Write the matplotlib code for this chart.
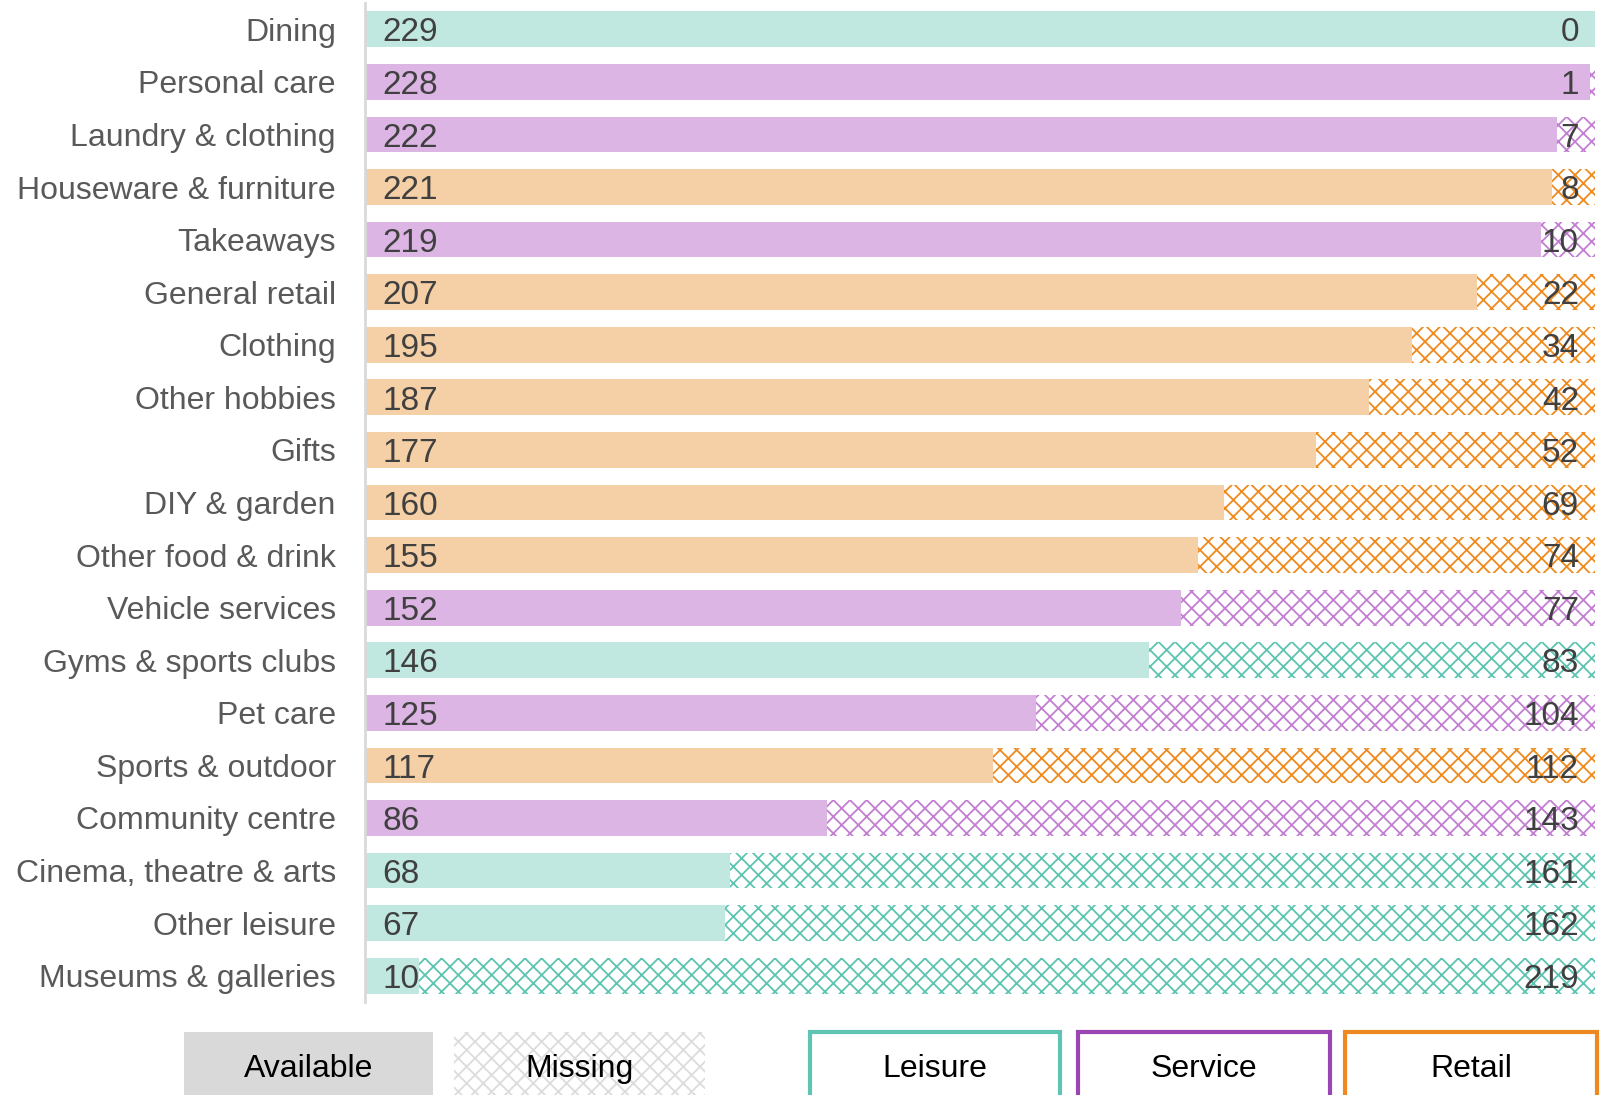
import matplotlib.pyplot as plt
from matplotlib.patches import Rectangle

plt.rcParams['font.family'] = ['Liberation Sans', 'DejaVu Sans']
plt.rcParams['hatch.linewidth'] = 1.3

# datos
categorias = ["Dining", "Personal care", "Laundry & clothing", "Houseware & furniture",
              "Takeaways", "General retail", "Clothing", "Other hobbies", "Gifts",
              "DIY & garden", "Other food & drink", "Vehicle services",
              "Gyms & sports clubs", "Pet care", "Sports & outdoor", "Community centre",
              "Cinema, theatre & arts", "Other leisure", "Museums & galleries"]
disponibles = [229, 228, 222, 221, 219, 207, 195, 187, 177, 160, 155, 152, 146, 125, 117, 86, 68, 67, 10]
faltantes = [0, 1, 7, 8, 10, 22, 34, 42, 52, 69, 74, 77, 83, 104, 112, 143, 161, 162, 219]
tipos = ["Leisure", "Service", "Service", "Retail", "Service", "Retail", "Retail", "Retail",
         "Retail", "Retail", "Retail", "Service", "Leisure", "Service", "Retail", "Service",
         "Leisure", "Leisure", "Leisure"]
leyenda_tipos = ["Leisure", "Service", "Retail"]

# colores por tipo: relleno, trama, borde
relleno = {"Leisure": "#c1e8e0", "Service": "#dcb5e4", "Retail": "#f5cfa5"}
trama = {"Leisure": "#5cc4b0", "Service": "#c27fd2", "Retail": "#ee8a1e"}
borde = {"Leisure": "#5fc4b4", "Service": "#9b44b3", "Retail": "#ee8820"}

W, H = 1613, 1095
fig = plt.figure(figsize=(W / 100, H / 100), dpi=100)
ax = fig.add_axes([365 / W, 1 - 1002 / H, (1595 - 365) / W, (1002 - 3) / H])

y = list(range(len(categorias)))
total = [a + m for a, m in zip(disponibles, faltantes)]

for i in y:
    t = tipos[i]
    ax.barh(i, disponibles[i], height=0.68, color=relleno[t], linewidth=0)
    if faltantes[i] > 0:
        ax.barh(i, faltantes[i], left=disponibles[i], height=0.68, color="white",
                edgecolor=trama[t], hatch="xx", linewidth=0)
    ax.text(3.2, i + 0.07, str(disponibles[i]), va="center", ha="left",
            fontsize=24, color="#404040")
    ax.text(total[i] - 3.0, i + 0.07, str(faltantes[i]), va="center", ha="right",
            fontsize=24, color="#404040")

ax.set_xlim(0, max(total))
ax.set_ylim(len(categorias) - 0.5, -0.5)
ax.set_yticks(y)
ax.set_yticklabels(categorias, fontsize=23, color="#595959")
ax.tick_params(axis="y", length=0, pad=21)
ax.set_xticks([])
for s in ["top", "right", "bottom"]:
    ax.spines[s].set_visible(False)
ax.spines["left"].set_color("#d9d9d9")
ax.spines["left"].set_linewidth(2)

# leyenda manual en la parte baja
def caja(x0, x1, etiqueta, **kw):
    r = Rectangle((x0 / W, 1 - 1125 / H), (x1 - x0) / W, (1125 - 1032) / H,
                  transform=fig.transFigure, clip_on=False, **kw)
    fig.add_artist(r)
    fig.text((x0 + x1) / 2 / W, 1 - 1069 / H, etiqueta, ha="center", va="center",
             fontsize=23, color="black")

caja(184, 433, "Available", facecolor="#d9d9d9", linewidth=0)
caja(454, 705, "Missing", facecolor="white", edgecolor="#dcdcdc", hatch="xx", linewidth=0)
posiciones = [(810, 1060), (1078, 1330), (1345, 1597)]
for t, (x0, x1) in zip(leyenda_tipos, posiciones):
    caja(x0, x1, t, facecolor="white", edgecolor=borde[t], linewidth=3)

fig.savefig("out.png", dpi=100)
